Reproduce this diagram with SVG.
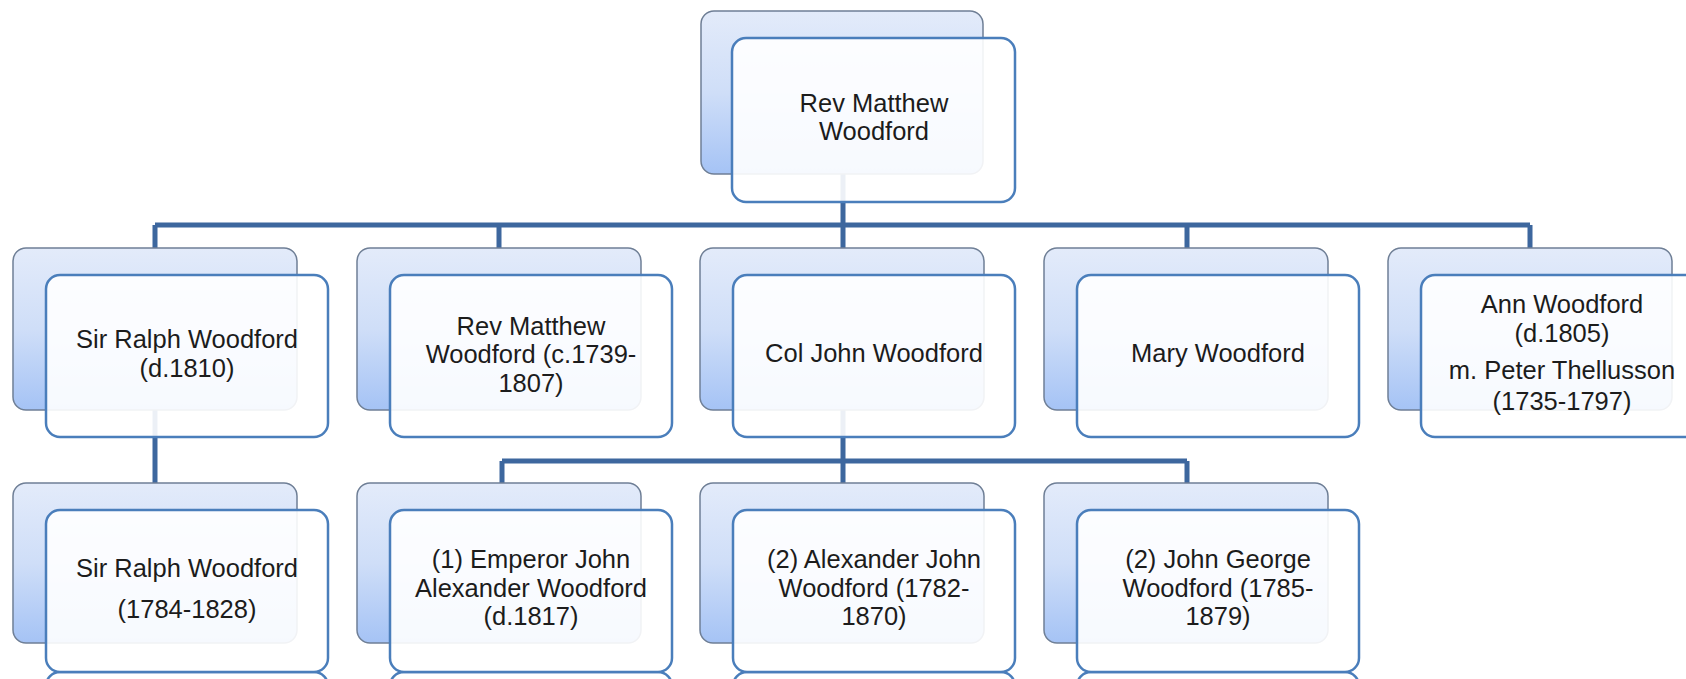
<svg xmlns="http://www.w3.org/2000/svg" width="1686" height="679" viewBox="0 0 1686 679">
<style>
.back{fill:url(#bg);stroke:#6f7f96;stroke-width:1.5}
.front{fill:#ffffff;fill-opacity:0.9;stroke:#4a7ebb;stroke-width:2.5}
.refl{fill:#ffffff;stroke:#4a7ebb;stroke-width:2.5}
.conn{fill:none;stroke:#3d679e;stroke-width:5}
text{font-family:"Liberation Sans",Arial,sans-serif;font-size:25.5px;fill:#1c1c1c;text-anchor:middle}
</style>
<defs>
<linearGradient id="bg" x1="0" y1="0" x2="0" y2="1">
<stop offset="0" stop-color="#e3ebfa"/>
<stop offset="0.5" stop-color="#cfdef8"/>
<stop offset="1" stop-color="#a5c3f5"/>
</linearGradient>
</defs>
<rect width="1686" height="679" fill="#ffffff"/>
<g id="connectors">
<path class="conn" d="M843,174 V225 M155,225 H1530 M155,225 V248 M499,225 V248 M843,225 V248 M1187,225 V248 M1530,225 V248"/>
<path class="conn" d="M155,410 V483"/>
<path class="conn" d="M843,410 V461 M502,461 H1187 M502,461 V483 M843,461 V483 M1187,461 V483"/>
</g>
<g id="n0">
<rect class="back" x="701" y="11" width="282" height="163" rx="13"/>
<rect class="front" x="732" y="38" width="283" height="164" rx="14"/>
<text x="874" y="112">Rev Matthew</text>
<text x="874" y="140">Woodford</text>
</g>
<g id="n1">
<rect class="back" x="13" y="248" width="284" height="162" rx="13"/>
<rect class="front" x="46" y="275" width="282" height="162" rx="14"/>
<text x="187" y="348">Sir Ralph Woodford</text>
<text x="187" y="377">(d.1810)</text>
</g>
<g id="n2">
<rect class="back" x="357" y="248" width="284" height="162" rx="13"/>
<rect class="front" x="390" y="275" width="282" height="162" rx="14"/>
<text x="531" y="335">Rev Matthew</text>
<text x="531" y="363">Woodford (c.1739-</text>
<text x="531" y="392">1807)</text>
</g>
<g id="n3">
<rect class="back" x="700" y="248" width="284" height="162" rx="13"/>
<rect class="front" x="733" y="275" width="282" height="162" rx="14"/>
<text x="874" y="362">Col John Woodford</text>
</g>
<g id="n4">
<rect class="back" x="1044" y="248" width="284" height="162" rx="13"/>
<rect class="front" x="1077" y="275" width="282" height="162" rx="14"/>
<text x="1218" y="362">Mary Woodford</text>
</g>
<g id="n5">
<rect class="back" x="1388" y="248" width="284" height="162" rx="13"/>
<rect class="front" x="1421" y="275" width="282" height="162" rx="14"/>
<text x="1562" y="313">Ann Woodford</text>
<text x="1562" y="342">(d.1805)</text>
<text x="1562" y="379">m. Peter Thellusson</text>
<text x="1562" y="410">(1735-1797)</text>
</g>
<g id="n6">
<rect class="back" x="13" y="483" width="284" height="160" rx="13"/>
<rect class="refl" x="46" y="672" width="282" height="100" rx="14"/>
<rect class="front" x="46" y="510" width="282" height="162" rx="14"/>
<text x="187" y="577">Sir Ralph Woodford</text>
<text x="187" y="618">(1784-1828)</text>
</g>
<g id="n7">
<rect class="back" x="357" y="483" width="284" height="160" rx="13"/>
<rect class="refl" x="390" y="672" width="282" height="100" rx="14"/>
<rect class="front" x="390" y="510" width="282" height="162" rx="14"/>
<text x="531" y="568">(1) Emperor John</text>
<text x="531" y="597">Alexander Woodford</text>
<text x="531" y="625">(d.1817)</text>
</g>
<g id="n8">
<rect class="back" x="700" y="483" width="284" height="160" rx="13"/>
<rect class="refl" x="733" y="672" width="282" height="100" rx="14"/>
<rect class="front" x="733" y="510" width="282" height="162" rx="14"/>
<text x="874" y="568">(2) Alexander John</text>
<text x="874" y="597">Woodford (1782-</text>
<text x="874" y="625">1870)</text>
</g>
<g id="n9">
<rect class="back" x="1044" y="483" width="284" height="160" rx="13"/>
<rect class="refl" x="1077" y="672" width="282" height="100" rx="14"/>
<rect class="front" x="1077" y="510" width="282" height="162" rx="14"/>
<text x="1218" y="568">(2) John George</text>
<text x="1218" y="597">Woodford (1785-</text>
<text x="1218" y="625">1879)</text>
</g>
</svg>
